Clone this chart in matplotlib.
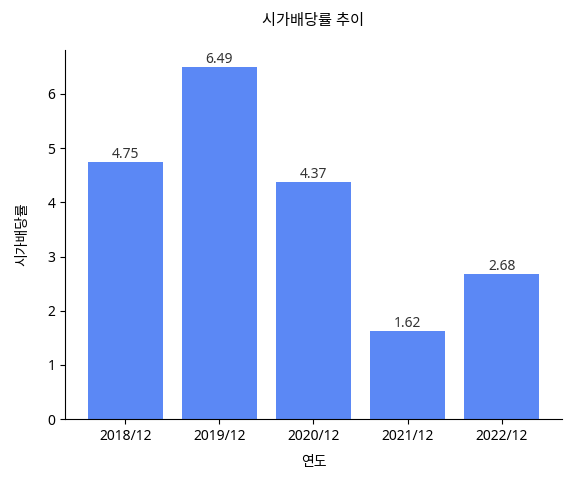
import matplotlib
matplotlib.use("Agg")
import matplotlib.pyplot as plt

# 데이터
years = ["2018/12", "2019/12", "2020/12", "2021/12", "2022/12"]
yields = [4.75, 6.49, 4.37, 1.62, 2.68]

plt.rcParams['font.family'] = ['Noto Sans', 'Noto Sans CJK KR', 'DejaVu Sans']

fig, ax = plt.subplots(figsize=(5.7, 4.79), dpi=100)
fig.subplots_adjust(left=0.114, right=0.986, top=0.896, bottom=0.125)

bars = ax.bar(years, yields, color="#5B88F5", width=0.8)
for b, v in zip(bars, yields):
    ax.text(b.get_x() + b.get_width() / 2, v, f"{v:.2f}", ha="center", va="bottom",
            fontsize=10, color="#333333")

ax.set_title("시가배당률 추이", fontsize=11, pad=18)
ax.set_xlabel("연도", fontsize=10, labelpad=8)
ax.set_ylabel("시가배당률", fontsize=10, labelpad=12)
ax.spines["top"].set_visible(False)
ax.spines["right"].set_visible(False)
ax.tick_params(labelsize=10)

fig.savefig("out.png", dpi=100)
